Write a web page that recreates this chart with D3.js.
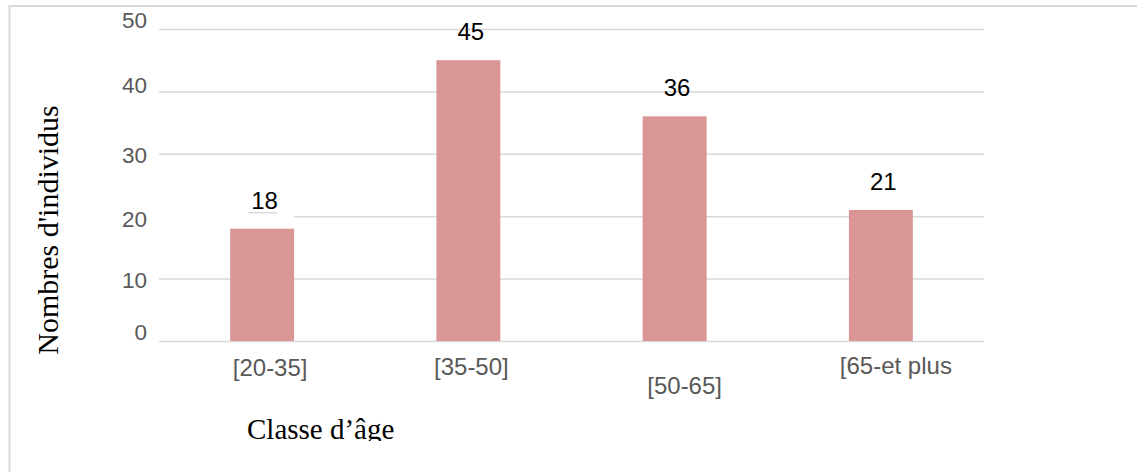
<!DOCTYPE html>
<html><head><meta charset="utf-8">
<script src="https://cdn.jsdelivr.net/npm/d3@7"></script>
<style>
body{margin:0;background:#fff;}
.tick text{font-family:"Liberation Sans",Arial,sans-serif;}
</style></head>
<body>
<svg id="chart" width="1137" height="472"></svg>
<script>
var categories=['[20-35]','[35-50]','[50-65]','[65-et plus'];
var counts=[18,45,36,21];
var yTicks=[0,10,20,30,40,50];
var yTitle="Nombres d'individus", xTitle='Classe d\u2019\u00e2ge';

// small per-label nudges seen in the original
var catNudge=[[8,0],[3,-1],[10,18],[15,-2]];
var tickNudge=[-8.5,1.3,3,1.4,-6,-9];

var W=1137,H=472;
var margin={top:29,left:159,right:W-984,bottom:H-341};
var width=W-margin.left-margin.right, height=H-margin.top-margin.bottom;
var svg=d3.select('#chart');

svg.append('rect').attr('x',9.5).attr('y',6).attr('width',1300).attr('height',600)
   .attr('fill','#fff').attr('stroke','#d9d9d9').attr('stroke-width',2);

var g=svg.append('g').attr('transform','translate('+margin.left+','+margin.top+')');
var x=d3.scaleBand().domain(categories).range([0,width]).paddingInner(0.69).paddingOuter(0.345);
var y=d3.scaleLinear().domain([0,50]).range([height,0]);

var ya=g.append('g').call(d3.axisLeft(y).tickValues(yTicks).tickSize(-width).tickPadding(12));
ya.select('.domain').remove();
ya.selectAll('.tick line').attr('stroke','#d9d9d9').attr('stroke-width',1.5);
ya.selectAll('.tick text').attr('fill','#595959').style('font-size','22.5px')
  .attr('y',function(d,i){return tickNudge[i];});

// the original hides the 20 gridline left of the first bar, leaving a sliver under its label
g.append('rect').attr('x',0).attr('y',y(20)-3).attr('width',x(categories[0])+x.bandwidth())
 .attr('height',6).attr('fill','#fff');
g.append('line').attr('x1',x(categories[0])+18).attr('x2',x(categories[0])+47)
 .attr('y1',y(20)-3.5).attr('y2',y(20)-3.5).attr('stroke','#d9d9d9').attr('stroke-width',1.5);

g.selectAll('.bar').data(counts).enter().append('rect').attr('class','bar')
 .attr('x',function(d,i){return x(categories[i]);})
 .attr('y',function(d){return y(d);})
 .attr('width',x.bandwidth())
 .attr('height',function(d){return height-y(d);})
 .attr('fill','#d99694');

g.selectAll('.val').data(counts).enter().append('text').attr('class','val')
 .attr('x',function(d,i){return x(categories[i])+x.bandwidth()/2+2.5;})
 .attr('y',function(d){return y(d)-20;})
 .attr('text-anchor','middle').attr('fill','#000')
 .style('font-family','"Liberation Sans",Arial,sans-serif').style('font-size','24px')
 .text(function(d){return d;});

g.selectAll('.cat').data(categories).enter().append('text').attr('class','cat')
 .attr('x',function(d,i){return x(d)+x.bandwidth()/2+catNudge[i][0];})
 .attr('y',function(d,i){return height+35+catNudge[i][1];})
 .attr('text-anchor','middle').attr('fill','#595959')
 .style('font-family','"Liberation Sans",Arial,sans-serif').style('font-size','24px')
 .text(function(d){return d;});

svg.append('text').attr('transform','translate(58,230) rotate(-90)')
   .attr('text-anchor','middle').attr('fill','#000')
   .style('font-family','"Liberation Serif","Times New Roman",serif').style('font-size','30px')
   .text(yTitle);

svg.append('clipPath').attr('id','clipT').append('rect')
   .attr('x',0).attr('y',0).attr('width',W).attr('height',441);
svg.append('text').attr('x',247).attr('y',439).attr('clip-path','url(#clipT)')
   .attr('fill','#000')
   .style('font-family','"Liberation Serif","Times New Roman",serif').style('font-size','29px')
   .text(xTitle);
</script>
</body></html>
